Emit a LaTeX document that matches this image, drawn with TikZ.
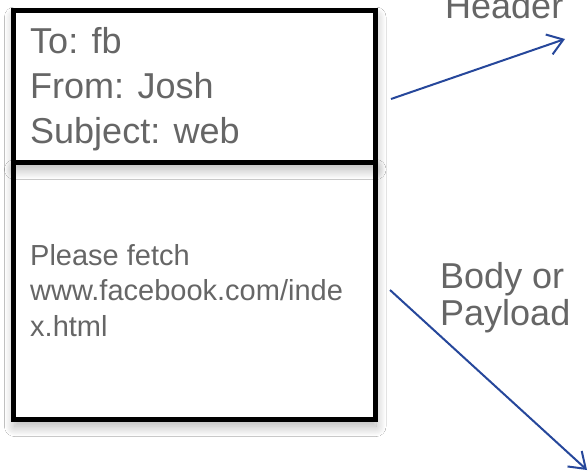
\documentclass[tikz,border=0pt]{standalone}
\usepackage{fontspec}
\setmainfont{Liberation Sans}
\usetikzlibrary{arrows.meta,shadows.blur}
\definecolor{txtgray}{HTML}{666666}
\definecolor{arrowblue}{HTML}{26479B}
\tikzset{
  msgbox/.style={draw=black, line width=5pt, fill=white, inner sep=0pt,
    anchor=north west,
    blur shadow={shadow xshift=1pt, shadow yshift=-7pt,
      shadow blur radius=10pt, shadow blur steps=24, shadow opacity=30}},
  bigtext/.style={text=txtgray, font=\fontsize{36}{45}\selectfont,
    align=left, inner sep=0pt, anchor=north west},
  smalltext/.style={text=txtgray, font=\fontsize{29}{35.5}\selectfont,
    align=left, inner sep=0pt, anchor=north west},
  labeltext/.style={text=txtgray, font=\fontsize{36}{37}\selectfont,
    align=left, inner sep=0pt, anchor=north west},
  pointer/.style={draw=arrowblue, line width=2pt,
    -{Straight Barb[length=15pt, width=21pt, line width=2pt]}}
}
\begin{document}
\begin{tikzpicture}[x=1pt, y=-1pt]
  \useasboundingbox[fill=white] (0,0) rectangle (588,472);

  % message parts: body first so that the header shadow falls on it
  \node[msgbox, minimum width=361.5pt, minimum height=257pt] (body) at (11,160) {};
  \node[msgbox, minimum width=361.5pt, minimum height=152.5pt] (header) at (11,7.5) {};

  % header fields
  \node[bigtext] (fields) at (30,27.5) {To: fb\\From: Josh\\Subject: web};

  % body content
  \node[smalltext] (content) at (30,244)
    {Please fetch\\www.facebook.com/inde\\x.html};

  % part labels
  \node[labeltext] (hdrlabel) at (445,-8) {Header};
  \node[labeltext] (bodylabel) at (440,262) {Body or\\Payload};

  % pointers
  \coordinate (hdrfrom) at (391,99);
  \coordinate (hdrto) at (565,39);
  \coordinate (bodyfrom) at (390,290);
  \coordinate (bodyto) at (587,470);
  \draw[pointer] (hdrfrom) -- (hdrto);
  \draw[pointer] (bodyfrom) -- (bodyto);
\end{tikzpicture}
\end{document}
